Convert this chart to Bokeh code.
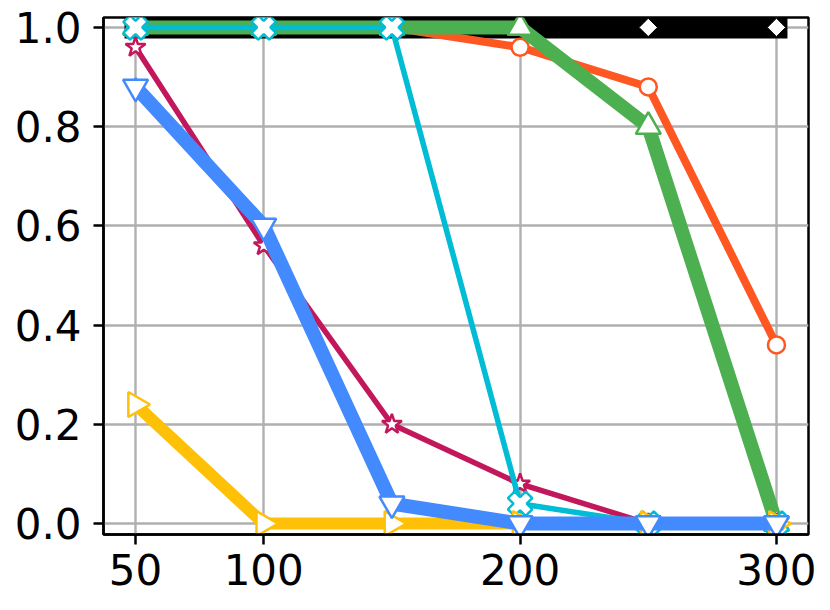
import math
from bokeh.plotting import figure
from bokeh.models import FixedTicker, Range1d
from bokeh.embed import file_html
from bokeh.resources import INLINE

x_vals = [50, 100, 150, 200, 250, 300]
black_vals = [1.0, 1.0, 1.0, 1.0, 1.0, 1.0]
orange_vals = [1.0, 1.0, 1.0, 0.96, 0.88, 0.36]
green_vals = [1.0, 1.0, 1.0, 1.0, 0.80, 0.0]
crimson_vals = [0.96, 0.56, 0.20, 0.08, 0.0, 0.0]
cyan_vals = [1.0, 1.0, 1.0, 0.04, 0.0, 0.0]
yellow_vals = [0.24, 0.0, 0.0, 0.0, 0.0, 0.0]
blue_vals = [0.88, 0.60, 0.04, 0.0, 0.0, 0.0]

x_ticks = [50, 100, 200, 300]
y_ticks = [0.0, 0.2, 0.4, 0.6, 0.8, 1.0]

p = figure(width=822, height=600, output_backend="svg", toolbar_location=None,
           x_range=Range1d(37.5, 312.5), y_range=Range1d(-0.022, 1.02),
           min_border_left=103, min_border_right=14, min_border_top=17, min_border_bottom=66)

p.outline_line_color = "black"
p.outline_line_width = 2.5
p.background_fill_color = "white"
p.border_fill_color = "white"

for ax in (p.xaxis[0], p.yaxis[0]):
    ax.axis_line_color = "black"
    ax.axis_line_width = 2.5
    ax.major_tick_line_color = "black"
    ax.major_tick_line_width = 2.5
    ax.major_tick_out = 10
    ax.major_tick_in = 0
    ax.minor_tick_line_color = None
    ax.major_label_text_font = "DejaVu Sans"
    ax.major_label_text_font_size = "42px"
    ax.major_label_text_color = "black"

p.xaxis.ticker = FixedTicker(ticks=x_ticks)
p.yaxis.ticker = FixedTicker(ticks=y_ticks)
p.yaxis.major_label_overrides = {t: f"{t:.1f}" for t in y_ticks}
p.xaxis.major_label_standoff = 9
p.yaxis.major_label_standoff = 12

p.grid.grid_line_color = "#b0b0b0"
p.grid.grid_line_width = 2.4

series = [
    (black_vals, "black", 22, "square", 13, "black", 1.0, math.pi / 4),
    (orange_vals, "#FF5722", 8, "circle", 17, "#FF5722", 2.5, 0.0),
    (green_vals, "#4CAF50", 14, "triangle", 25, "#4CAF50", 2.5, 0.0),
    (crimson_vals, "#C2185B", 5.5, "star", 21, "#C2185B", 2.5, 0.0),
    (cyan_vals, "#00BCD4", 5.5, "plus", 25, "#00BCD4", 2.5, math.pi / 4),
    (yellow_vals, "#FFC107", 12, "triangle", 25, "#FFC107", 2.5, -math.pi / 2),
    (blue_vals, "#448AFF", 14, "inverted_triangle", 25, "#448AFF", 2.5, 0.0),
]

for vals, color, lw, marker, size, edge, elw, ang in series:
    p.line(x_vals, vals, line_color=color, line_width=lw, line_cap="square", line_join="miter")
    p.scatter(x_vals, vals, marker=marker, size=size, fill_color="white",
              line_color=edge, line_width=elw, angle=ang)

open("out.html", "w").write(file_html(p, INLINE))
